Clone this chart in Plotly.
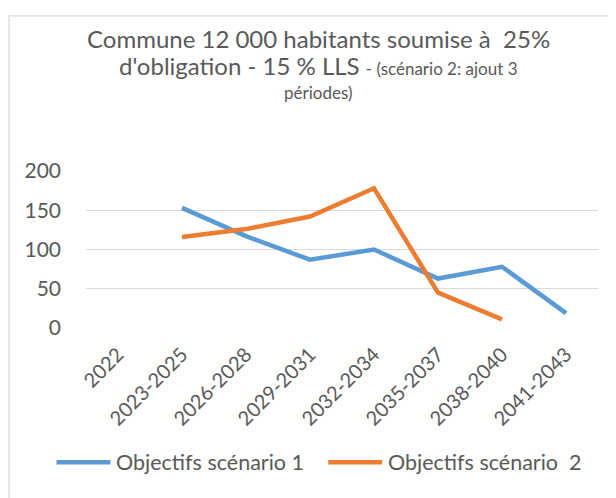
import plotly.graph_objects as go

# Periods and targets
periods = ["2022", "2023-2025", "2026-2028", "2029-2031", "2032-2034",
           "2035-2037", "2038-2040", "2041-2043"]
scenario_1 = [None, 153, 117, 87, 100, 63, 78, 19]
scenario_2 = [None, 116, 126, 142, 178, 45, 11, None]
names = ["Objectifs scénario 1", "Objectifs scénario  2"]

BLUE = "#5B9BD5"
ORANGE = "#ED7D31"
TEXT = "#595959"
GRID = "#D9D9D9"
FONT = "Lato, sans-serif"

# page body has an 8px margin, so the figure starts at (8, 8)
OFF = 8
W, H = 616 - OFF, 498 - OFF
# plot area in page pixels
PL, PR, PT, PB = 85.5, 598, 170.7, 328.3
L, R, T, B = PL - OFF, W - (PR - OFF), PT - OFF, H - (PB - OFF)


def px_to_paper(x, y):
    """page pixel -> paper coords"""
    return (x - PL) / (PR - PL), (PB - y) / (PB - PT)


fig = go.Figure()
for vals, name, color in [(scenario_1, names[0], BLUE), (scenario_2, names[1], ORANGE)]:
    fig.add_trace(go.Scatter(x=periods, y=vals, mode="lines", name=name,
                             line=dict(color=color, width=4.5), showlegend=False))

# chart frame (cut on the right and bottom in the reference)
bx0, by1 = px_to_paper(8.5, 15)
bx1, by0 = px_to_paper(640, 520)
fig.add_shape(type="rect", xref="paper", yref="paper", x0=bx0, x1=bx1, y0=by0, y1=by1,
              line=dict(color=GRID, width=1.3), layer="below")

# title, one annotation per line
title_lines = [
    ("Commune 12 000 habitants soumise à  25%", 38),
    ("d'obligation - 15 % LLS <span style='font-size:17px'>- (scénario 2: ajout 3</span>", 65),
    ("<span style='font-size:17px'>périodes)</span>", 92),
]
for text, ypx in title_lines:
    tx, ty = px_to_paper(318, ypx)
    fig.add_annotation(text=text, xref="paper", yref="paper", x=tx, y=ty,
                       xanchor="center", yanchor="middle", showarrow=False,
                       font=dict(family=FONT, size=24, color=TEXT))

# legend drawn by hand so the swatch length matches
legend_items = [(names[0], BLUE, 56, 110), (names[1], ORANGE, 328, 382)]
for name, color, x0, x1 in legend_items:
    sx0, sy = px_to_paper(x0, 463)
    sx1, _ = px_to_paper(x1, 463)
    fig.add_shape(type="line", xref="paper", yref="paper", x0=sx0, x1=sx1, y0=sy, y1=sy,
                  line=dict(color=color, width=4.5))
    tx, _ = px_to_paper(x1 + 4, 463)
    fig.add_annotation(text=name, xref="paper", yref="paper", x=tx, y=sy,
                       xanchor="left", yanchor="middle", showarrow=False,
                       font=dict(family=FONT, size=21.5, color=TEXT))

fig.update_layout(
    width=W, height=H,
    margin=dict(l=L, r=R, t=T, b=B, autoexpand=False),
    paper_bgcolor="#FFFFFF",
    plot_bgcolor="#FFFFFF",
    font=dict(family=FONT, color=TEXT),
    showlegend=False,
    xaxis=dict(range=[-0.5, 7.5], showgrid=False, showline=False, zeroline=False, tickangle=-45,
               tickfont=dict(family=FONT, size=20, color=TEXT), ticks="", ticklabelstandoff=10),
    yaxis=dict(range=[0, 200], dtick=50, showgrid=True, gridcolor=GRID, gridwidth=1.3,
               zeroline=False, showline=False, ticks="", ticklabelstandoff=24,
               tickfont=dict(family=FONT, size=21, color=TEXT)),
)

fig.write_html("out.html")
